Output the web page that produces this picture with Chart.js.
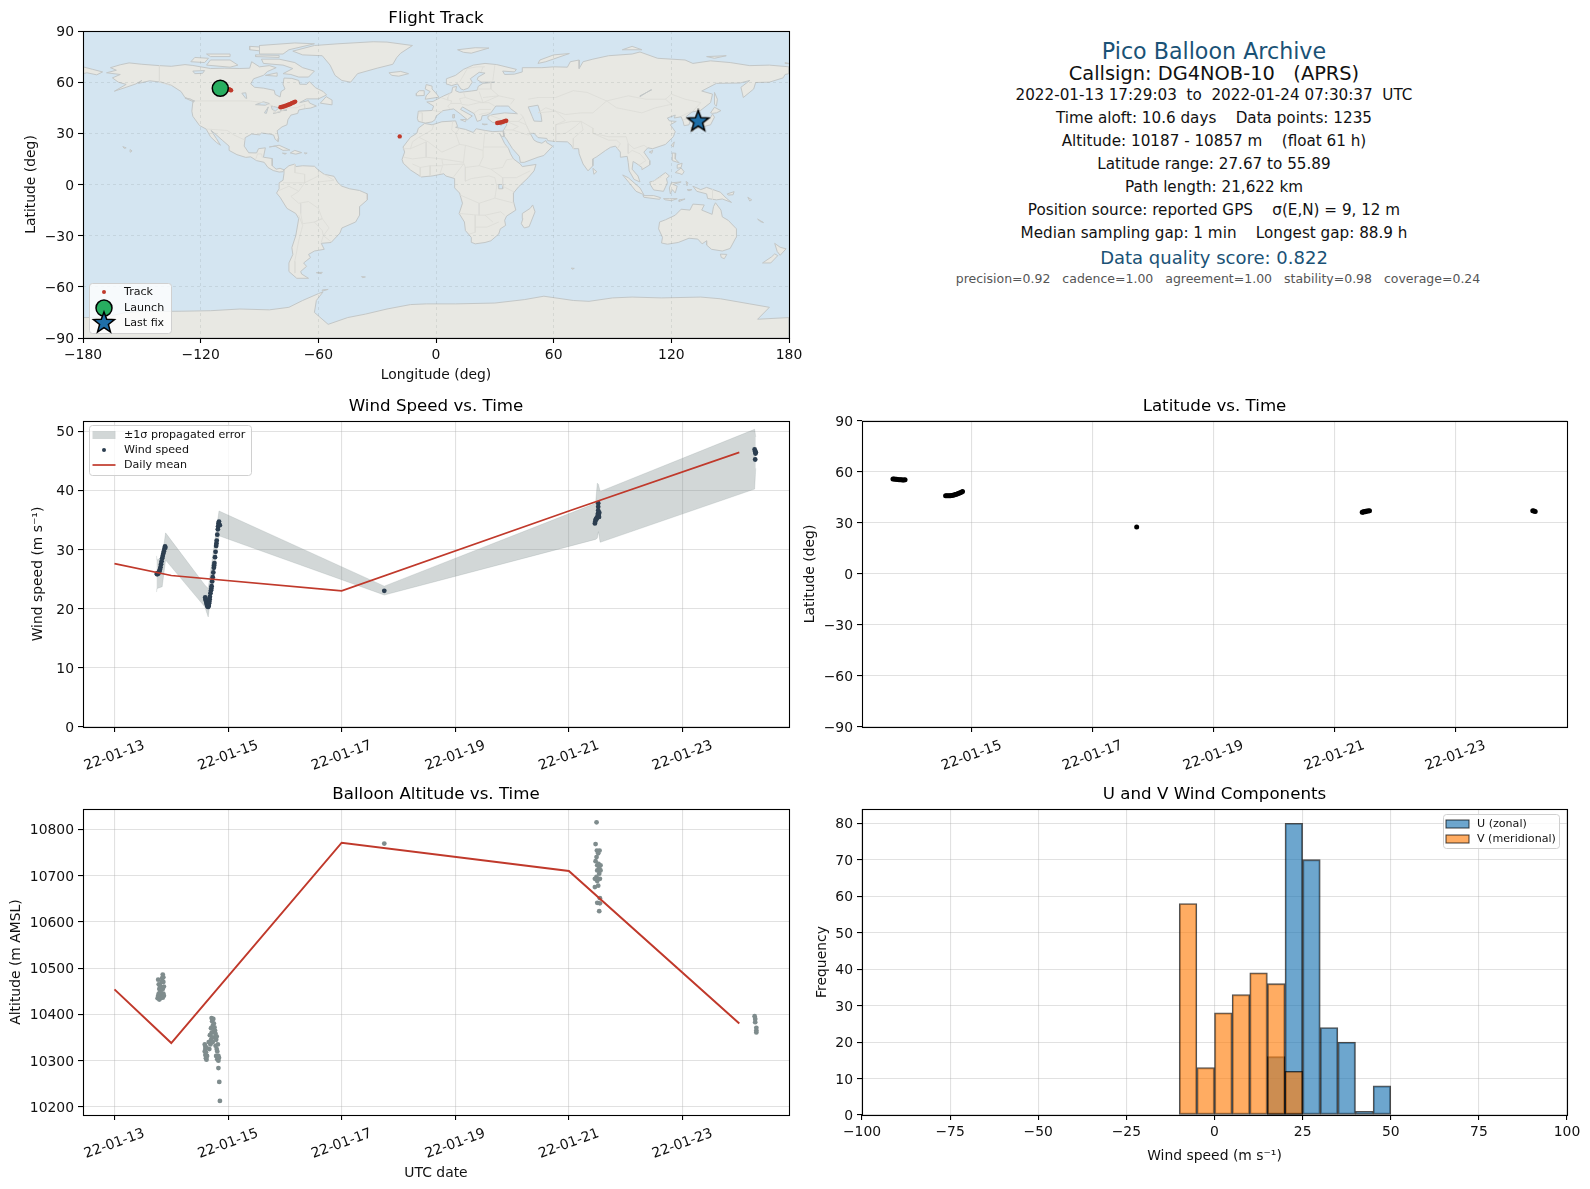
<!DOCTYPE html>
<html>
<head>
<meta charset="utf-8">
<title>Pico Balloon Archive</title>
<script src="https://cdn.jsdelivr.net/npm/chart.js@4/dist/chart.umd.js"></script>
<style>
  html, body { margin: 0; padding: 0; background: #fff; }
  body { position: relative; width: 1590px; height: 1189px; overflow: hidden; font-family: "DejaVu Sans", sans-serif; }
  canvas { position: absolute; }
  .info { position: absolute; left: 1214px; transform: translate(-50%, -50%); white-space: pre; color: #111; font-size: 15.2px; }
</style>
</head>
<body>
<canvas id="mapChart" style="left:0;top:9px" width="809" height="379"></canvas>
<canvas id="windChart" style="left:0;top:397px" width="809" height="400"></canvas>
<canvas id="latChart" style="left:790px;top:397px" width="797" height="400"></canvas>
<canvas id="altChart" style="left:0;top:785px" width="809" height="402"></canvas>
<canvas id="histChart" style="left:790px;top:785px" width="797" height="380"></canvas>

<div class="info" style="top:51px;font-size:22.2px;color:#1a5276">Pico Balloon Archive</div>
<div class="info" style="top:73px;font-size:19.4px">Callsign: DG4NOB-10   (APRS)</div>
<div class="info" style="top:95px">2022-01-13 17:29:03  to  2022-01-24 07:30:37  UTC</div>
<div class="info" style="top:118px">Time aloft: 10.6 days    Data points: 1235</div>
<div class="info" style="top:141px">Altitude: 10187 - 10857 m    (float 61 h)</div>
<div class="info" style="top:164px">Latitude range: 27.67 to 55.89</div>
<div class="info" style="top:187px">Path length: 21,622 km</div>
<div class="info" style="top:210px">Position source: reported GPS    σ(E,N) = 9, 12 m</div>
<div class="info" style="top:233px">Median sampling gap: 1 min    Longest gap: 88.9 h</div>
<div class="info" style="top:257px;font-size:18px;color:#1a5276">Data quality score: 0.822</div>
<div class="info" style="top:278px;left:1218px;font-size:12.5px;color:#555">precision=0.92   cadence=1.00   agreement=1.00   stability=0.98   coverage=0.24</div>

<script>
// --- data ---

// x values on the time panels are days of January 2022
const windTickDays = [13, 15, 17, 19, 21, 23];
const latTickDays = [15, 17, 19, 21, 23];

const trackLon = [-105.6, -105.2, -104.8, -104.5, -79.3, -78.8, -78.2, -77.6, -77, -76.3, -75.6, -75, -74.3, -73.6, -72.9, -72.3, -71.8, -18.5, 31.2, 31.9, 32.6, 33.3, 34, 34.7, 35.3, 35.8];
const trackLat = [55.9, 55.6, 55.4, 55.2, 45.3, 45.4, 45.6, 45.8, 46, 46.3, 46.6, 46.9, 47.2, 47.6, 48, 48.3, 48.6, 28.2, 36.1, 36.2, 36.3, 36.5, 36.7, 37, 37.3, 37.4];
const launchLon = [-110];
const launchLat = [56.4];
const lastFixLon = [133.7];
const lastFixLat = [37];

const bandDays = [13.74, 13.75, 13.84, 13.90, 14.59, 14.65, 14.84, 17.75, 21.47, 21.50, 21.52, 21.55, 24.27, 24.29];
const bandUpper = [28.9, 28.2, 28.7, 32.8, 24.0, 23.4, 36.5, 23.8, 37.8, 41.2, 41.0, 39.8, 50.3, 49.0];
const bandLower = [22.8, 23.4, 23.7, 28.2, 20.3, 18.6, 32.3, 22.3, 31.7, 31.9, 33.0, 31.2, 40.2, 43.7];

const windDays = [13.745, 13.752, 13.76, 13.77, 13.78, 13.79, 13.80, 13.81, 13.82, 13.83, 13.84, 13.85, 13.86, 13.87, 13.88, 13.89, 13.895,
  14.597, 14.605, 14.61, 14.615, 14.62, 14.625, 14.63, 14.635, 14.64, 14.645, 14.65, 14.655, 14.66, 14.665, 14.67, 14.675, 14.68, 14.69, 14.70, 14.705, 14.71, 14.72, 14.73, 14.74, 14.75, 14.755, 14.76, 14.77, 14.78, 14.79, 14.795, 14.80, 14.81, 14.82, 14.825, 14.83, 14.84, 14.855,
  17.75,
  21.458, 21.465, 21.47, 21.48, 21.49, 21.50, 21.51, 21.516, 21.516, 21.516, 21.516, 21.52, 21.525, 21.53, 21.535,
  24.27, 24.28, 24.285, 24.29, 24.28];
const windValues = [25.9, 25.8, 26.0, 25.9, 26.1, 26.3, 26.6, 27, 27.5, 28, 28.5, 28.9, 29.3, 29.7, 30.1, 30.5, 30.3,
  21.9, 21.6, 21.4, 21.2, 21.0, 20.8, 20.6, 20.5, 20.4, 20.3, 20.3, 20.4, 20.6, 20.9, 21.2, 21.6, 22, 22.6, 23.1, 23.4, 23.8, 24.6, 25.3, 26.1, 26.9, 27.3, 27.7, 28.7, 29.6, 30.6, 31, 31.5, 32.5, 33.4, 33.9, 34.4, 34.7, 34.1,
  23,
  34.4, 34.7, 35.0, 35.2, 35.2, 35.5, 36, 37.8, 37.2, 36.6, 36, 35.5, 35.8, 35.5, 36.2,
  46.9, 46.6, 46.2, 46.4, 45.2];
const meanDays = [13, 14, 17, 21, 24];
const windMean = [27.6, 25.6, 23, 36.5, 46.4];
const altMean = [10454, 10338, 10771, 10710, 10380];

const latDays = [13.70, 13.72, 13.74, 13.76, 13.78, 13.80, 13.82, 13.84, 13.86, 13.88, 13.90,
  14.57, 14.59, 14.61, 14.63, 14.65, 14.67, 14.69, 14.71, 14.73, 14.75, 14.77, 14.79, 14.81, 14.83, 14.85,
  17.73,
  21.46, 21.47, 21.48, 21.50, 21.51, 21.52, 21.54, 21.56, 21.58,
  24.28, 24.30, 24.32];
const latValues = [55.9, 55.9, 55.8, 55.7, 55.6, 55.5, 55.4, 55.4, 55.3, 55.3, 55.4,
  46, 46, 46, 46, 46.1, 46.2, 46.3, 46.5, 46.7, 46.9, 47.2, 47.5, 47.8, 48.1, 48.5,
  27.67,
  36.3, 36.5, 36.4, 36.7, 36.6, 36.9, 37, 37.1, 37.2,
  37.2, 37, 36.8];

const altDays = [13.76, 13.77, 13.77, 13.78, 13.78, 13.79, 13.79, 13.80, 13.80, 13.81, 13.81, 13.82, 13.82, 13.83, 13.83, 13.84, 13.84, 13.85, 13.85, 13.85, 13.86, 13.86, 13.86, 13.87, 13.87,
  14.59, 14.59, 14.60, 14.60, 14.60, 14.61, 14.61, 14.62, 14.62, 14.63, 14.66, 14.67, 14.68, 14.69, 14.70, 14.70, 14.71, 14.71, 14.72, 14.72, 14.73, 14.73, 14.74, 14.74, 14.75, 14.76, 14.77, 14.77, 14.78, 14.78, 14.79, 14.79, 14.80, 14.80, 14.81, 14.81, 14.82, 14.83, 14.83, 14.84, 14.83, 14.845, 14.856,
  17.75,
  21.487, 21.470, 21.493, 21.540, 21.516, 21.487, 21.470, 21.522, 21.557, 21.499, 21.534, 21.499, 21.557, 21.534, 21.487, 21.458, 21.546, 21.499, 21.458, 21.516, 21.546, 21.499, 21.546, 21.534,
  24.27, 24.28, 24.28, 24.30, 24.30, 24.30];
const altValues = [10435, 10475, 10440, 10445, 10465, 10432, 10455, 10440, 10462, 10435, 10450, 10444, 10458, 10438, 10470, 10441, 10478, 10436, 10455, 10486, 10445, 10470, 10480, 10440, 10460,
  10335, 10320, 10330, 10312, 10325, 10305, 10318, 10302, 10328, 10310, 10340, 10325, 10355, 10335, 10345, 10370, 10360, 10392, 10350, 10385, 10375, 10340, 10390, 10362, 10380, 10372, 10350, 10365, 10332, 10358, 10310, 10345, 10325, 10352, 10303, 10320, 10335, 10310, 10300, 10306, 10284, 10254, 10213,
  10769,
  10815, 10768, 10754, 10754, 10748, 10740, 10731, 10725, 10722, 10722, 10716, 10711, 10711, 10704, 10697, 10693, 10693, 10688, 10675, 10678, 10651, 10641, 10640, 10623,
  10396, 10390, 10383, 10371, 10365, 10361];

const histBinCentres = [-7.5, -2.5, 2.5, 7.5, 12.5, 17.5, 22.5, 27.5, 32.5, 37.5, 42.5, 47.5];
const uCounts = [0, 0, 0, 0, 0, 16, 80, 70, 24, 20, 1, 8];
const vCounts = [58, 13, 28, 33, 39, 36, 12, 0, 0, 0, 0, 0];

// coastlines as [lon, lat] outlines
const northAmerica = [[-156.5,71.3],[-150,70.5],[-141,69.7],[-135,69.3],[-128,70.3],[-124,69.8],[-115,68],[-108,68.2],[-100,68],[-95,68.2],[-94,72],[-90,69],[-85,69.7],[-81.5,68.5],[-86,66.2],[-88,64],[-93,62],[-94.5,59],[-92.5,57],[-88,56.5],[-82.5,55.2],[-82,52.8],[-79.5,51.3],[-79,54.5],[-77,56],[-78,58.8],[-77.5,62.4],[-73.5,62.2],[-70,61],[-69.5,58.8],[-66,58.7],[-64.5,60.3],[-61.5,56.8],[-57.5,54.5],[-55.8,52.5],[-60,50.2],[-66,50.2],[-69.5,48],[-65,49.2],[-64.5,47.8],[-61,46],[-64,44.8],[-66.5,44.5],[-70,43.7],[-70.5,41.7],[-74,40.7],[-75.5,38],[-76,35],[-78.5,33.8],[-81,31.5],[-80.2,27],[-80.5,25.2],[-82,26.5],[-82.8,29],[-85,29.6],[-89,30.2],[-90,29.1],[-94,29.6],[-97.3,27.5],[-97.8,22.5],[-95.5,18.6],[-91.5,18.5],[-90.5,21],[-87,21.5],[-88,16],[-83.5,15.2],[-83.5,11],[-81.5,9],[-79.5,9.5],[-77.5,8.6],[-78,7.5],[-80,7.3],[-83,8.2],[-85.7,10],[-87.6,13],[-91.5,14],[-94.5,16.2],[-97,15.9],[-101.5,17.5],[-105.5,20],[-105.5,22.5],[-109,26],[-112.7,29.8],[-114.7,31.7],[-112,27],[-109.9,23],[-112,24.7],[-115,28],[-117.2,32.5],[-120.6,34.6],[-124,40],[-124.5,43],[-124,48.3],[-123,49],[-128,51],[-130,54.5],[-135,58.2],[-140,60],[-146,60.8],[-151.7,59.3],[-150,61],[-153,59],[-158,57],[-164,54.7],[-158,58.7],[-162,60],[-165,62.5],[-161,64.5],[-168,65.5],[-163,67],[-166,68.5],[-161,70.2]];
const southAmerica = [[-77.5,8.6],[-75,11],[-72,12],[-71.5,10.5],[-68,11],[-62,10.7],[-60,8.5],[-57,6],[-52,4.8],[-50,1],[-48,-1],[-44,-2.5],[-39,-3.5],[-35,-5.5],[-35,-9],[-39,-13],[-39,-18],[-41,-22],[-48,-25.5],[-49,-28.5],[-53.5,-34],[-58.5,-34.5],[-57,-38],[-62,-39],[-65,-41],[-64,-42.8],[-67.5,-46],[-66,-48],[-69,-51],[-68.5,-52.5],[-65,-55],[-71,-55],[-75,-51],[-75,-46],[-73,-41],[-73.5,-37],[-71.5,-30],[-70,-20],[-71.5,-17],[-76,-14],[-79.5,-7.5],[-81.3,-5],[-80,-2.5],[-80,1],[-78,2.5],[-77.5,6.5]];
const africa = [[-5.8,35.8],[-2,35],[3,36.8],[10,37.3],[11,34],[10,33.5],[15,32.3],[19,30.5],[20.5,32.7],[25,31.7],[29,31],[32.3,31.2],[34.2,31.3],[34.5,28],[33,28.5],[32.5,30],[35,24],[37,21],[38,18],[39.5,15],[43,12],[44,10.5],[51,11.8],[50,8],[47,4],[42,-1.5],[39.5,-5],[39.5,-10],[40.7,-15],[36,-18.5],[35,-21],[35.5,-24],[32.8,-26],[32,-29],[28,-33],[25,-34],[20,-34.8],[18.3,-34],[18,-31],[15,-27],[14.5,-22],[11.8,-17],[13.5,-11],[12,-5],[9.5,-2],[9.5,3.5],[5,5],[4,6.3],[-2,5],[-7.5,4.4],[-13,8.5],[-16.7,12.5],[-17.3,14.7],[-16,19],[-16.8,22],[-13,27.7],[-9.8,30],[-9,33]];
const eurasia = [[-9,37],[-9.5,38.8],[-9,43],[-2,43.4],[-1.2,46],[-4.7,48.4],[-1.5,48.7],[1.5,50.5],[4,52],[8,54],[8.5,57],[10.5,57.5],[10,55],[12,54],[18,54.8],[21,55.3],[21.5,57.5],[24,59.3],[30,60],[23,60],[21,61.5],[21.5,63],[25,65.3],[22,65.8],[17.5,62],[18.5,60],[16.5,56.5],[14,55.5],[12.7,56],[11,59],[8,58],[5.2,59],[5.3,62],[10,64],[14,67.5],[19,70],[25,71],[31,70.3],[41,67.5],[40,66],[34,66.5],[35,64.5],[40,64.7],[44,66],[44,68.5],[54,68.5],[60,69],[67,68.8],[68.5,72],[73,73],[73,68],[75,72],[80,73.5],[88,75.5],[100,76.5],[104,77.7],[113,74],[127,73],[131,71],[140,72.5],[150,71.5],[160,69.7],[170,70],[180,69],[180,65],[178,64.5],[177,62.5],[170,60],[163,59.8],[162,56],[156.7,51],[155.5,57],[160,61],[155,59.5],[143,59.3],[135.5,54.8],[141,53],[140,48],[135,43.5],[130.5,42.5],[127.5,39.8],[129.5,37],[129,35],[126.5,34.5],[126,37],[125,39.7],[121.5,39],[122,40.7],[118,39],[119,37.3],[122.5,37],[119.5,35],[122,31],[121,28],[117,23.5],[110.5,21],[108,21.5],[106,19],[109,14],[109,11.5],[105,8.7],[105,10],[102,12.5],[100.5,13.5],[100,9],[103,5],[104,1.5],[101,3],[98.5,8],[98,13],[97.5,16.5],[94.3,16],[94,19],[91.5,22.5],[89,21.8],[86.5,20],[82,16.3],[80,15],[80,11],[77.5,8],[75,12],[73,18],[72.7,21],[70,21],[69,23],[67,25],[61,25.2],[57,25.7],[56.5,27],[52,27.5],[50,30],[48,30],[50,26],[51.5,25],[54,24.2],[56,25.8],[56.5,24.5],[59.5,22.5],[55,17],[52,16],[45,13],[43,13],[42.5,16.5],[39,21],[36,26.5],[35,28],[34.2,31.3],[35.8,34.5],[36,36.8],[32,36.2],[29,36.3],[26.5,38.5],[26.5,40],[29,41],[35,42],[41.5,41.5],[38,44.5],[37,46],[33,46],[30.5,46],[28,42],[26,40.7],[23.5,40.3],[23,37.8],[21,37],[19.5,41.5],[13.5,45.5],[12.5,44],[18.5,40.2],[16,38],[12.5,41.3],[9,44.3],[3.5,43.3],[0,40],[-0.5,38],[-2,36.7],[-5.5,36]];
const chukotkaWest = [[-180,69],[-175,67.5],[-170,66],[-173,64.3],[-178,65.5],[-180,65]];
const australia = [[114,-22],[113.5,-26],[115.5,-31],[115,-34.3],[118,-35],[123.5,-34],[129,-31.5],[133.5,-32],[135.7,-34.8],[138,-33],[138,-35.5],[140.5,-38],[146,-39],[150,-37.5],[153,-31],[153.2,-26],[149,-21],[146,-19],[145.3,-15],[142.5,-10.7],[141.5,-13],[140.8,-17.5],[135.5,-15],[136.8,-12],[131,-11.5],[129.5,-15],[125,-14.5],[122,-18],[117,-20.7]];
const antarctica = [[-180,-78],[-170,-78],[-158,-75],[-150,-74.5],[-130,-74.3],[-115,-74],[-100,-73],[-85,-73.5],[-75,-72],[-68,-68],[-60,-64],[-57.6,-63],[-61,-68],[-62,-75],[-55,-82],[-45,-78],[-36,-76],[-25,-73],[-13,-70.4],[-5,-70],[10,-70],[30,-69.5],[45,-67.5],[55,-65.5],[70,-68],[78,-68.5],[90,-66.5],[100,-66],[115,-66.5],[135,-66],[145,-67],[160,-70],[170,-72],[164,-79],[180,-78],[180,-90],[-180,-90]];
const islands = [
  [[-73,78.2],[-68,76],[-58,75.5],[-54,70],[-51.5,64],[-48,61],[-43.5,60],[-40,65],[-30,68.2],[-22,70.5],[-20,74.5],[-18,77],[-12,81.5],[-25,83.5],[-32,83.7],[-50,82.5],[-62,81.5]],
  [[-80,73.5],[-72,71.5],[-68,68.5],[-62,66.5],[-65,63],[-70,63],[-74,64.5],[-78,65],[-73,68],[-78,70],[-88,71],[-89,73.5]],
  [[-117,70],[-105,68.8],[-101,70],[-105,73],[-115,73]],
  [[-125,72],[-118,71.5],[-116,74],[-123,74.5]],
  [[-90,76.5],[-78,76.5],[-75,79],[-62,82.5],[-72,83],[-90,81.5]],
  [[-92,75],[-80,74.5],[-80,75.7],[-92,76]],
  [[-95,79],[-87,78],[-88,80.5],[-95,81]],
  [[-115,75],[-105,75],[-105,76.5],[-117,76.5]],
  [[-87,64],[-81,63.5],[-81,65.5]],
  [[-59,47.7],[-53,46.7],[-53,49.5],[-56,51.5]],
  [[-128,50.7],[-123.5,48.4],[-125,50]],
  [[-85,22],[-80,23],[-74.5,20.2],[-78,20],[-82,22.5]],
  [[-74.3,18.5],[-72,20],[-68.5,18.7],[-71.5,17.8]],
  [[-78.3,18.4],[-76.3,18.2],[-77,17.8]],
  [[-67.2,18.5],[-65.7,18.4],[-66.5,18]],
  [[-156,20.5],[-155,19.7],[-155.7,19]],
  [[-159.7,22.2],[-158,21.5],[-159,21.2]],
  [[-61,-51.7],[-58,-51.5],[-58.5,-52.3]],
  [[49.3,-12],[50.5,-16],[47.5,-24.7],[45,-25.5],[43.5,-23],[44.3,-20],[44,-17],[48,-14]],
  [[-5.5,50],[1.5,51.2],[0,53.5],[-2,56],[-2,57.7],[-5,58.6],[-5.5,56],[-3,54.5],[-5,52]],
  [[-10,52],[-6,52.2],[-6,55],[-8.5,55],[-10,53.5]],
  [[-24,65.5],[-18,66.3],[-14,65],[-19,63.5],[-22.5,64]],
  [[11,79],[20,80.2],[27,80],[18,77],[14,77.5]],
  [[52,71],[56,72],[68,76.8],[60,76],[53,73]],
  [[95,79],[105,79],[100,81]],
  [[138,75],[148,75.5],[142,74]],
  [[178,71.5],[180,71],[180,70.8],[178,71]],
  [[142,54],[143.5,50],[143,46],[142,47],[142,53]],
  [[140,42],[142,45.3],[145.3,43.3],[143,42],[141,41.7]],
  [[131,34],[135,33.5],[140,35],[142,39.5],[141,41.3],[139.8,39],[136.8,37],[133,35.5]],
  [[130,33.5],[131.7,33],[131,31],[130,31.5]],
  [[132.5,34],[134.5,34],[134,33],[132.7,33]],
  [[120,23],[121.5,25],[121,22]],
  [[108.7,19],[110.5,20],[110,18.3]],
  [[80,9.5],[82,7.5],[80.5,6]],
  [[95.2,5.6],[98,4],[104,-2],[106,-6],[102,-4],[98.5,1]],
  [[105.5,-6.5],[111,-6.5],[114.5,-7.7],[114,-8.7],[106,-7.5]],
  [[109,1.5],[111,2],[114,4.5],[117,7],[119,5],[117.5,3.5],[118,1],[116,-4],[111,-3.2],[109.5,-0.5]],
  [[120,1],[125,1.5],[121,0],[123,-1],[122,-5],[120.5,-3],[119.5,-5.5],[119,-2]],
  [[120.5,18.5],[122.3,18.3],[122,15],[124,12.7],[120.5,14]],
  [[122,7],[125,9.7],[126.5,7.5],[125.5,5.8],[124,6.5]],
  [[123,11.5],[125.5,12.5],[125,10],[123,9.5]],
  [[131,-1],[135,-3],[138,-1.7],[145,-4.5],[148,-8],[150.7,-10.5],[146,-8.5],[143,-9],[138.5,-8.2],[138,-5.5],[133,-4]],
  [[148.5,-5.5],[152,-4.2],[151.5,-6],[149,-6.2]],
  [[124,-10],[127,-8.5],[124,-9]],
  [[116,-8.3],[119,-8.3],[123,-8.3],[120,-9.5],[117,-9]],
  [[127.5,1.8],[128.5,1],[128,-0.7]],
  [[128,-3],[130.5,-3],[129,-3.7]],
  [[159,-7.5],[161,-9],[160,-9.7]],
  [[164,-20.3],[167,-22.3],[165.5,-21.8]],
  [[172.7,-34.5],[175.5,-36.8],[178.5,-37.7],[175.5,-41.5],[174,-39.3]],
  [[172.7,-40.7],[174.3,-41.7],[170.7,-46],[166.5,-46],[171,-42.5]],
  [[145,-40.8],[148.3,-41],[147,-43.5],[145.5,-42.8]],
  [[69,-49],[70.5,-49.2],[69.5,-49.7]],
  [[-38,-54],[-36,-54.2],[-37.5,-54.6]],
  [[-58,-61.8],[-55,-61.5],[-58,-62.5]],
  [[8.5,41],[9.5,41],[9.3,39],[8.5,39]],
  [[12.5,38],[15.5,38.2],[15,36.8]],
  [[32.5,35.2],[34.5,35.6],[33,34.6]],
  [[23.5,35.5],[26.2,35.3],[24.5,35]]
];
const lakes = [
  [[47,45.5],[52,46.5],[53.5,41],[54,37],[50,37.2],[49,40]],
  [[-92,46.8],[-88,48.5],[-85,47.5],[-87,46.5]],
  [[-87.5,42],[-85.5,45.5],[-86.5,41.7]],
  [[-84,46],[-80,45],[-82,43],[-83.5,44]],
  [[-83,41.7],[-79,42.9],[-79.5,42.5]],
  [[-79.5,43.3],[-76.3,44],[-76.3,43.4]],
  [[-99,53.5],[-97,53.8],[-96.5,50.5],[-97,50.5]],
  [[-124,66.5],[-118,66.8],[-119,65.2],[-123,65]],
  [[32,0],[34,0],[34,-2.5],[32,-2.5]],
  [[104,52],[110,55.5],[109.5,55.5],[104,51.5]]
];
const borderLines = [
  [[-123,49],[-95,49],[-88,48],[-83,46],[-82.5,42],[-79,43],[-75,45],[-71,45],[-67,47],[-67,45]],
  [[-141,69.7],[-141,60],[-135,58]],
  [[-117,32.5],[-106.5,31.7],[-103,29],[-97.3,26]],
  [[-92,14.5],[-91,18],[-89,18],[-88.5,15.7]],
  [[-70,-4],[-74,-7],[-70,-11],[-65,-10],[-60,-14],[-58,-20],[-54.5,-25.5],[-57.5,-30],[-53.5,-33.5]],
  [[-70,-4],[-67,1],[-60,5],[-60,8]],
  [[-72,12],[-72,7],[-67,6],[-67,1],[-78,1]],
  [[-70,-18],[-68,-24],[-70,-33],[-72,-45],[-72,-52]],
  [[-69,-11],[-69,-17],[-68,-23],[-62,-22],[-58,-20]],
  [[-80,-3.5],[-75,-1],[-70,-4]],
  [[-58,-20],[-62,-22],[-58,-27],[-57.5,-30],[-58.5,-34]],
  [[-57,6],[-52,2.5],[-60,1.5]],
  [[-9,42],[-7,42],[-7,37]],
  [[-2,43.4],[3.5,42.5]],
  [[2.5,51],[6,49.5],[8,49],[7.5,47.5],[6,46],[7.5,44]],
  [[7,53.5],[6,51],[6,49.5]],
  [[14,54],[15,51],[12,50.3],[13,47.5],[7.5,47.5]],
  [[15,51],[19,49.5],[24,48],[22,54.5]],
  [[13,47],[16.5,46.5],[22,48],[27,48],[30,46]],
  [[24,48],[32,52],[40,50],[38,47]],
  [[28,56],[32,52],[24,51]],
  [[28,60],[28,56],[21,56]],
  [[30,70],[29,61]],
  [[12,60],[16,68],[21,69],[25,69]],
  [[23,66],[24,69]],
  [[22,41],[26,42],[28,42]],
  [[19.5,42],[22,44],[28,44]],
  [[26.5,41],[36,37],[42,37],[44.5,39.5],[43,41.5]],
  [[36,37],[42,34],[39,32],[35,32]],
  [[42,37],[46,35],[48,30]],
  [[39,32],[47,29],[48,29.5]],
  [[44.5,39.5],[46,35],[48,30]],
  [[52,42],[61,43],[66,37.5],[61,35],[61,25]],
  [[61,35],[69,37],[74,37],[71,34],[66,30],[61,29.5]],
  [[74,37],[75,32],[70,27],[70,21]],
  [[47,50],[52,51],[61,51],[70,55],[77,54],[87,49]],
  [[52,42],[56,45],[66,41],[74,42],[80,42],[87,49]],
  [[87,49],[98,52],[107,50],[117,50],[120,53],[127,50],[135,48],[131,43]],
  [[87,49],[92,45],[105,42],[112,45],[120,47],[117,50]],
  [[74,37],[80,33],[80,30],[88,28],[97,28],[98,24],[101,21],[106,23],[108,21.5]],
  [[80,30],[88,26],[92,26],[94,24],[92.5,21]],
  [[98,24],[98,18],[100,20],[104,18],[107,14],[103,11]],
  [[125,40],[130,42.7]],
  [[126,38],[128.5,38.5]],
  [[-8.7,27.7],[-2,32],[-1.2,35]],
  [[-8.7,27.7],[-4,25],[3,19],[12,23.5],[10,30],[8,32],[8.5,37]],
  [[10,30],[12,33]],
  [[12,23.5],[15,23],[24,20],[25,31.7]],
  [[24,22],[37,22]],
  [[15,23],[14,13],[15,10],[22,11],[24,16],[24,20]],
  [[-12,25],[-8.7,27.7]],
  [[-17,21],[-13,21],[-12,25]],
  [[-13,21],[-5,25],[-5,16],[-12,15],[-16.5,16]],
  [[-5,16],[3,15],[3.5,11.5],[2,6.3]],
  [[3,15],[14,13]],
  [[3.5,11.5],[14,12],[9,4.5]],
  [[-12,12],[-8,10],[-3,11],[3,11]],
  [[-8,10],[-8,4.5]],
  [[-3,11],[-3,5]],
  [[22,11],[28,9],[34,10],[36,14.5],[39,15]],
  [[28,9],[34,4],[41,4],[48,8]],
  [[34,4],[34,-1],[40,-4.5]],
  [[15,10],[15,2],[18,3.5],[27,5],[30,4],[31,-1],[30,-8],[22,-11],[12,-6]],
  [[30,-8],[40,-11]],
  [[22,-11],[22,-18],[12,-17]],
  [[22,-18],[25,-18],[33,-16],[35,-18]],
  [[20,-18],[20,-28],[17,-29]],
  [[20,-25],[26,-25],[32,-22]],
  [[25,-18],[29,-22]],
  [[141,-2.6],[141,-9]],
  [[115,4.5],[110,1.5]]
];

// --- helpers ---

const FONT = '"DejaVu Sans", sans-serif';
const BLACK = '#000';
const GRID = 'rgba(176,176,176,0.38)';

Chart.defaults.font.family = FONT;
Chart.defaults.font.size = 13.9;
Chart.defaults.color = '#111';
Chart.defaults.animation = false;
Chart.defaults.responsive = false;
Chart.defaults.plugins.tooltip.enabled = false;
Chart.defaults.plugins.legend.display = false;

const zip = (xs, ys) => xs.map((x, i) => ({ x, y: ys[i] }));
const lonLat = outline => outline.map(p => ({ x: p[0], y: p[1] }));
const minusLabel = v => String(v).replace('-', '\u2212');

// filled five point star used for the last fix marker
function makeStar(radius, fill) {
    const size = Math.ceil(radius * 2 + 4);
    const c = document.createElement('canvas');
    c.width = c.height = size;
    const ctx = c.getContext('2d');
    drawStar(ctx, size / 2, size / 2, radius, fill);
    return c;
}
function drawStar(ctx, cx, cy, radius, fill) {
    ctx.beginPath();
    for (let i = 0; i < 10; i++) {
        const r = i % 2 ? radius * 0.42 : radius;
        const a = -Math.PI / 2 + i * Math.PI / 5;
        ctx.lineTo(cx + r * Math.cos(a), cy + r * Math.sin(a));
    }
    ctx.closePath();
    ctx.fillStyle = fill;
    ctx.fill();
    ctx.lineWidth = 1.5;
    ctx.strokeStyle = BLACK;
    ctx.stroke();
}

// axes frame + ocean background
const panelFrame = {
    id: 'panelFrame',
    beforeDraw(chart, args, opts) {
        if (!opts.background) return;
        const a = chart.chartArea;
        chart.ctx.fillStyle = opts.background;
        chart.ctx.fillRect(a.left, a.top, a.right - a.left, a.bottom - a.top);
    },
    afterDraw(chart) {
        const a = chart.chartArea;
        const ctx = chart.ctx;
        ctx.save();
        ctx.strokeStyle = BLACK;
        ctx.lineWidth = 1.1;
        ctx.strokeRect(Math.round(a.left) + 0.5, Math.round(a.top) + 0.5, Math.round(a.right - a.left), Math.round(a.bottom - a.top));
        ctx.restore();
    }
};

// matplotlib style legend placed inside the axes
const panelLegend = {
    id: 'panelLegend',
    afterDraw(chart, args, opts) {
        if (!opts.items) return;
        const ctx = chart.ctx;
        const a = chart.chartArea;
        const [bx, by, bw, bh] = opts.box;
        ctx.save();
        ctx.beginPath();
        ctx.roundRect(a.left + bx + 0.5, a.top + by + 0.5, bw, bh, 3);
        ctx.fillStyle = 'rgba(255,255,255,0.8)';
        ctx.fill();
        ctx.strokeStyle = '#d0d0d0';
        ctx.lineWidth = 1;
        ctx.stroke();
        ctx.font = '11.1px ' + FONT;
        ctx.textBaseline = 'middle';
        opts.items.forEach(it => {
            const y = a.top + it.y;
            const x = a.left + opts.symbolX;
            if (it.kind === 'dot' || it.kind === 'bigDot') {
                ctx.beginPath();
                ctx.arc(x, y, it.r, 0, Math.PI * 2);
                ctx.fillStyle = it.color;
                ctx.fill();
                if (it.kind === 'bigDot') { ctx.lineWidth = 1.5; ctx.strokeStyle = BLACK; ctx.stroke(); }
            } else if (it.kind === 'star') {
                drawStar(ctx, x, y, it.r, it.color);
            } else if (it.kind === 'line') {
                ctx.beginPath();
                ctx.moveTo(x - 11.5, y);
                ctx.lineTo(x + 11.5, y);
                ctx.lineWidth = 1.7;
                ctx.strokeStyle = it.color;
                ctx.stroke();
            } else if (it.kind === 'patch') {
                ctx.fillStyle = it.color;
                ctx.fillRect(x - 11.5, y - 4, 23, 8);
                if (it.edge) {
                    ctx.lineWidth = 1.1;
                    ctx.strokeStyle = it.edge;
                    ctx.strokeRect(x - 11.5, y - 4, 23, 8);
                }
            }
            ctx.fillStyle = '#111';
            ctx.fillText(it.label, a.left + opts.textX, y + 0.5);
        });
        ctx.restore();
    }
};
Chart.register(panelFrame, panelLegend);

function titleOpts(text, bottom) {
    return { display: true, fullSize: false, text, color: BLACK, font: { size: 16.67, weight: 'normal', lineHeight: 1.2 }, padding: { top: 0, bottom: bottom === undefined ? 4 : bottom } };
}
function axisTitle(text, pad) {
    if (!text) return { display: false };
    return { display: true, text, color: '#111', font: { size: 13.9, lineHeight: 1.2 }, padding: pad };
}
function xAxis(o) {
    return Object.assign({
        type: 'linear',
        border: { display: false },
        grid: { color: GRID, lineWidth: 1.1, tickColor: BLACK, tickWidth: 1.1, tickLength: 5 },
        afterFit: s => { s.height = o.boxHeight; s.paddingLeft = 0; s.paddingRight = 0; }
    }, o);
}
function yAxis(o) {
    return Object.assign({
        type: 'linear',
        border: { display: false },
        grid: { color: GRID, lineWidth: 1.1, tickColor: BLACK, tickWidth: 1.1, tickLength: 5 },
        afterFit: s => { s.width = o.boxWidth; s.paddingTop = 0; s.paddingBottom = 0; }
    }, o);
}
// rotated date labels centred under their tick, like the original figure
function dateAxis(tickDays, min, max, boxHeight, label, pad) {
    return xAxis({
        min, max, boxHeight,
        title: axisTitle(label, pad),
        afterBuildTicks: s => { s.ticks = tickDays.map(value => ({ value })); },
        afterFit: s => {
            s.height = boxHeight; s.paddingLeft = 0; s.paddingRight = 0;
            s._getXAxisLabelAlignment = () => 'center';
        },
        ticks: { autoSkip: false, minRotation: 20, maxRotation: 20, padding: 16, callback: v => '22-01-' + v }
    });
}

// --- flight track map ---

const landStyle = { showLine: true, fill: 'shape', pointRadius: 0, borderWidth: 1, tension: 0,
    backgroundColor: '#e8e8e3', borderColor: '#c3c7c7', order: 6 };
const continentSets = [northAmerica, southAmerica, africa, eurasia, chukotkaWest, australia, antarctica]
    .map(o => Object.assign({ data: lonLat(o.concat([o[0]])) }, landStyle));
const islandSets = islands.map(o => Object.assign({ data: lonLat(o.concat([o[0]])) }, landStyle, { order: 5.5 }));
const lakeSets = lakes.map(o => Object.assign({ data: lonLat(o.concat([o[0]])) }, landStyle,
    { backgroundColor: '#d4e5f1', order: 5 }));
const borderSets = borderLines.map(o => ({ data: lonLat(o), showLine: true, pointRadius: 0, borderWidth: 0.8,
    borderColor: '#dcdcd7', order: 4 }));
const mapGrid = { z: 1, color: 'rgba(120,130,130,0.17)', lineWidth: 1, tickColor: BLACK, tickWidth: 1.1, tickLength: 5 };

new Chart(document.getElementById('mapChart'), {
    type: 'scatter',
    data: { datasets: [
        { label: 'Last fix', data: zip(lastFixLon, lastFixLat), pointStyle: makeStar(11, '#1f6fa8'), order: 1 },
        { label: 'Launch', data: zip(launchLon, launchLat), pointRadius: 8, pointBorderWidth: 1.5, pointBorderColor: BLACK, pointBackgroundColor: '#27ae60', order: 2 },
        { label: 'Track', data: zip(trackLon, trackLat), pointRadius: 2.2, pointBorderWidth: 0, pointBackgroundColor: '#c0392b', order: 3 },
        ...borderSets, ...lakeSets, ...islandSets, ...continentSets
    ] },
    options: {
        layout: { padding: { right: 20 } },
        plugins: {
            title: titleOpts('Flight Track', 2),
            panelFrame: { background: '#d4e5f1' },
            panelLegend: {
                box: [6, 252, 82, 50], symbolX: 21, textX: 41,
                items: [
                    { kind: 'dot', r: 2, color: '#c0392b', label: 'Track', y: 261 },
                    { kind: 'bigDot', r: 8, color: '#27ae60', label: 'Launch', y: 277 },
                    { kind: 'star', r: 11, color: '#1f6fa8', label: 'Last fix', y: 292 }
                ]
            }
        },
        scales: {
            x: xAxis({ min: -180, max: 180, boxHeight: 50, title: axisTitle('Longitude (deg)', { top: 4, bottom: 4 }),
                ticks: { stepSize: 60, maxRotation: 0, padding: 4, callback: minusLabel },
                border: { display: false, dash: [3, 3] }, grid: mapGrid }),
            y: yAxis({ min: -90, max: 90, boxWidth: 83, title: axisTitle('Latitude (deg)', { top: 23, bottom: 0 }),
                ticks: { stepSize: 30, padding: 4, labelOffset: 1.5, callback: minusLabel },
                border: { display: false, dash: [3, 3] }, grid: mapGrid })
        }
    }
});

// --- wind speed ---

new Chart(document.getElementById('windChart'), {
    type: 'scatter',
    data: { datasets: [
        { label: 'Daily mean', data: zip(meanDays, windMean), showLine: true, pointRadius: 0, borderWidth: 1.7, borderColor: '#c0392b', order: 1 },
        { label: 'Wind speed', data: zip(windDays, windValues), pointRadius: 2.4, pointBorderWidth: 0, pointBackgroundColor: '#2c3e50', order: 2 },
        { label: '±1σ propagated error', data: zip(bandDays, bandUpper), showLine: true, pointRadius: 0, borderWidth: 1, fill: '+1',
          borderColor: 'rgba(127,140,141,0.2)', backgroundColor: 'rgba(127,140,141,0.35)', order: 3 },
        { label: 'lower', data: zip(bandDays, bandLower), showLine: true, pointRadius: 0, borderWidth: 1,
          borderColor: 'rgba(127,140,141,0.2)', order: 4 }
    ] },
    options: {
        layout: { padding: { right: 20 } },
        plugins: {
            title: titleOpts('Wind Speed vs. Time'),
            panelLegend: {
                box: [6, 4, 162, 50], symbolX: 21, textX: 41,
                items: [
                    { kind: 'patch', color: 'rgba(127,140,141,0.35)', label: '±1σ propagated error', y: 14 },
                    { kind: 'dot', r: 2, color: '#2c3e50', label: 'Wind speed', y: 29 },
                    { kind: 'line', color: '#c0392b', label: 'Daily mean', y: 44 }
                ]
            }
        },
        scales: {
            x: dateAxis(windTickDays, 12.446, 24.875, 70),
            y: yAxis({ min: 0, max: 51.7, boxWidth: 83, title: axisTitle('Wind speed (m s⁻¹)', { top: 30, bottom: 0 }),
                ticks: { stepSize: 10, includeBounds: false, padding: 4, labelOffset: 1.5 } })
        }
    }
});

// --- latitude ---

new Chart(document.getElementById('latChart'), {
    type: 'scatter',
    data: { datasets: [
        { label: 'Latitude', data: zip(latDays, latValues), pointRadius: 2.5, pointBorderWidth: 0, pointBackgroundColor: BLACK }
    ] },
    options: {
        layout: { padding: { right: 20 } },
        plugins: { title: titleOpts('Latitude vs. Time') },
        scales: {
            x: dateAxis(latTickDays, 13.188, 24.846, 70),
            y: yAxis({ min: -90, max: 90, boxWidth: 72, title: axisTitle('Latitude (deg)', { top: 11.7, bottom: 0 }),
                ticks: { stepSize: 30, padding: 4, labelOffset: 1.5, callback: minusLabel } })
        }
    }
});

// --- altitude ---

new Chart(document.getElementById('altChart'), {
    type: 'scatter',
    data: { datasets: [
        { label: 'Daily mean', data: zip(meanDays, altMean), showLine: true, pointRadius: 0, borderWidth: 2, borderColor: '#c0392b', order: 1 },
        { label: 'Altitude', data: zip(altDays, altValues), pointRadius: 2.4, pointBorderWidth: 0, pointBackgroundColor: '#7f8c8d', order: 2 }
    ] },
    options: {
        layout: { padding: { right: 20 } },
        plugins: { title: titleOpts('Balloon Altitude vs. Time') },
        scales: {
            x: dateAxis(windTickDays, 12.446, 24.875, 72, 'UTC date', { top: 4, bottom: 5 }),
            y: yAxis({ min: 10182.5, max: 10843.8, boxWidth: 83, title: axisTitle('Altitude (m AMSL)', { top: 8, bottom: 0 }),
                ticks: { padding: 4, labelOffset: 1.5, callback: v => String(v) },
                afterBuildTicks: s => { s.ticks = [10200, 10300, 10400, 10500, 10600, 10700, 10800].map(value => ({ value })); } })
        }
    }
});

// --- U / V histogram ---

const barStyle = { barPercentage: 1, categoryPercentage: 1, grouped: false, borderWidth: 1.3, borderSkipped: false, borderColor: 'rgba(0,0,0,0.68)' };
new Chart(document.getElementById('histChart'), {
    type: 'bar',
    data: { datasets: [
        Object.assign({ label: 'U (zonal)', data: zip(histBinCentres, uCounts), backgroundColor: 'rgba(31,119,180,0.65)', order: 2 }, barStyle),
        Object.assign({ label: 'V (meridional)', data: zip(histBinCentres, vCounts), backgroundColor: 'rgba(255,127,14,0.65)', order: 1 }, barStyle)
    ] },
    options: {
        layout: { padding: { right: 20 } },
        plugins: {
            title: titleOpts('U and V Wind Components'),
            panelLegend: {
                box: [581, 5, 116, 34], symbolX: 595.5, textX: 615,
                items: [
                    { kind: 'patch', color: 'rgba(31,119,180,0.65)', edge: 'rgba(0,0,0,0.68)', label: 'U (zonal)', y: 15 },
                    { kind: 'patch', color: 'rgba(255,127,14,0.65)', edge: 'rgba(0,0,0,0.68)', label: 'V (meridional)', y: 30 }
                ]
            }
        },
        scales: {
            x: xAxis({ min: -100, max: 100, boxHeight: 50, offset: false, title: axisTitle('Wind speed (m s⁻¹)', { top: 4, bottom: 0 }),
                ticks: { stepSize: 25, maxRotation: 0, padding: 4, callback: minusLabel },
                grid: { offset: false, color: GRID, lineWidth: 1.1, tickColor: BLACK, tickWidth: 1.1, tickLength: 5 } }),
            y: yAxis({ min: 0, max: 83.9, boxWidth: 72, title: axisTitle('Frequency', { top: 23.7, bottom: 0 }),
                ticks: { stepSize: 10, includeBounds: false, padding: 4, labelOffset: 1.5 } })
        }
    }
});
</script>
</body>
</html>
